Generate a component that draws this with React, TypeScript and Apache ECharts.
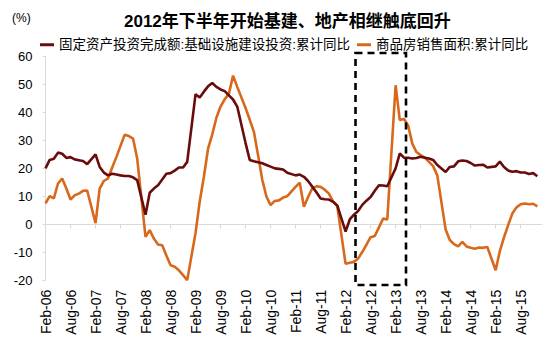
import React, { useEffect, useRef } from "react";
import * as echarts from "echarts";

// Monthly cumulative YoY (%), Feb..Dec of each year (January not published -> null)
const YEARS = [2006, 2007, 2008, 2009, 2010, 2011, 2012, 2013, 2014, 2015];
const MONTHS = ["Jan", "Feb", "Mar", "Apr", "May", "Jun", "Jul", "Aug", "Sep", "Oct", "Nov", "Dec"];

const infra2006 = [20, 23, 23.4, 25.6, 25.2, 23.7, 24, 23.2, 22.9, 22.6, 21.5];
const infra2007 = [25, 20.5, 18.5, 17.5, 18.1, 17.8, 17.5, 17.3, 17.3, 16.8, 15.8];
const infra2008 = [3.5, 11.3, 12.8, 14, 16, 18.1, 18.3, 19.2, 20.3, 20.3, 22.3];
const infra2009 = [46.4, 45.2, 47.3, 49.2, 50.4, 49, 48.1, 47.5, 46, 44.5, 42];
const infra2010 = [29, 23, 22.5, 22.2, 21.8, 21.2, 20.6, 20, 19.8, 19.6, 18.4];
const infra2011 = [17.5, 17.8, 17, 15.5, 13.5, 11.5, 9.3, 9, 8.9, 8.1, 6.8];
const infra2012 = [-2.5, 1.8, 3.5, 4.8, 7, 8.5, 9.8, 12, 14, 13.9, 13.6];
const infra2013 = [20, 25.3, 23.8, 23.8, 23.5, 23.7, 24.1, 23.8, 23.5, 23, 21.2];
const infra2014 = [18.7, 20.5, 20.7, 22.5, 22.8, 22.6, 21.9, 21, 21.2, 21.3, 20.3];
const infra2015 = [20.7, 22.4, 20.5, 19.2, 18.8, 19, 18.5, 18.5, 18, 18.3, 17.2];

const sales2006 = [7.5, 10.1, 9.3, 14.6, 16.4, 12.8, 8.9, 10.4, 11, 12, 12.1];
const sales2007 = [0.5, 12.8, 15.5, 16.4, 20.3, 24, 28, 32, 31.5, 30.6, 23.5];
const sales2008 = [-4.4, -2, -5, -7.1, -7.4, -11, -14.5, -15, -16.3, -18, -19.8];
const sales2009 = [-3, 8.2, 17, 27, 32, 38, 42, 44.6, 46.6, 53, 49];
const sales2010 = [41.5, 37.3, 33, 24.7, 16, 10, 6.9, 8.4, 8.6, 9.6, 10.1];
const sales2011 = [13.4, 14.9, 6.3, 9.8, 12.9, 13.6, 13.4, 12.4, 11, 8.2, 6.5];
const sales2012 = [-14, -13.6, -13.3, -12.1, -9.8, -7.2, -4.5, -4.1, -1, 2.1, 1.8];
const sales2013 = [49.6, 37.2, 37.6, 35.3, 28.8, 25.8, 24.7, 23.8, 22.3, 20.8, 17.5];
const sales2014 = [-1.8, -5.5, -7, -7.8, -6.2, -7.8, -8.3, -8.6, -8.2, -8.3, -8];
const sales2015 = [-16.3, -9.5, -4.6, -0.2, 3.9, 6.1, 7.2, 7.5, 7.2, 7.4, 6.5];

const infraByYear = [infra2006, infra2007, infra2008, infra2009, infra2010, infra2011, infra2012, infra2013, infra2014, infra2015];
const salesByYear = [sales2006, sales2007, sales2008, sales2009, sales2010, sales2011, sales2012, sales2013, sales2014, sales2015];

const Y_TICKS = { min: -20, max: 60, interval: 10 };
const TITLE = "2012年下半年开始基建、地产相继触底回升";
const UNIT = "(%)";
const SERIES_NAMES = ["固定资产投资完成额:基础设施建设投资:累计同比", "商品房销售面积:累计同比"];

const yy = (y: number) => String(y % 100).padStart(2, "0");
const categories: string[] = [];
YEARS.forEach((y) => {
  for (let m = 1; m < 12; m++) categories.push(`${MONTHS[m]}-${yy(y)}`);
  categories.push(`Jan-${yy(y + 1)}`);
});
const flat = (arr: number[][]) => arr.flatMap((a) => [...a, null as any]);
const infraData = flat(infraByYear);
const salesData = flat(salesByYear);

const FONT = "'Liberation Sans', Arial, 'Noto Sans CJK SC', sans-serif";
const MAROON = "#6a0c0c";
const ORANGE = "#d8681c";
const AXIS = "#d9d9d9";

export default function App() {
  const ref = useRef<HTMLDivElement>(null);
  useEffect(() => {
    if (!ref.current) return;
    const chart = echarts.init(ref.current, undefined, { renderer: "svg" });
    chart.setOption({
      animation: false,
      textStyle: { fontFamily: FONT },
      title: [
        { text: UNIT, left: 7, top: 7, textStyle: { fontSize: 12, fontWeight: "normal", color: "#000", fontFamily: FONT } },
        { text: TITLE, left: 119, top: 8, textStyle: { fontSize: 17, fontWeight: "bold", color: "#000", fontFamily: FONT } },
      ],
      legend: {
        left: 35,
        top: 33,
        icon: "rect",
        itemWidth: 14,
        itemHeight: 3,
        itemGap: 7,
        textStyle: { fontSize: 13.5, color: "#000", fontFamily: FONT },
        data: SERIES_NAMES,
      },
      grid: { left: 45.5, right: 8.5, top: 56, bottom: 62.3, containLabel: false },
      xAxis: [
        {
          type: "category",
          data: categories,
          boundaryGap: false,
          axisLine: { onZero: true, lineStyle: { color: AXIS, width: 1 } },
          axisTick: { show: true, interval: 5, length: 4, lineStyle: { color: AXIS } },
          axisLabel: { show: false },
          splitLine: { show: false },
        },
        {
          type: "category",
          data: categories,
          boundaryGap: false,
          position: "bottom",
          axisLine: { show: false, onZero: false },
          axisTick: { show: false },
          axisLabel: { interval: 5, rotate: 90, margin: 9, fontSize: 14, color: "#000", fontFamily: FONT },
          splitLine: { show: false },
        },
      ],
      yAxis: {
        type: "value",
        min: Y_TICKS.min,
        max: Y_TICKS.max,
        interval: Y_TICKS.interval,
        axisLine: { show: true, lineStyle: { color: AXIS } },
        axisTick: { show: true, length: 3, lineStyle: { color: AXIS } },
        axisLabel: { fontSize: 13, color: "#000", margin: 13, fontFamily: FONT },
        splitLine: { show: false },
      },
      series: [
        {
          name: SERIES_NAMES[0],
          type: "line",
          data: infraData,
          connectNulls: true,
          showSymbol: false,
          symbol: "none",
          color: MAROON,
          lineStyle: { color: MAROON, width: 2.6 },
          z: 3,
        },
        {
          name: SERIES_NAMES[1],
          type: "line",
          data: salesData,
          connectNulls: true,
          showSymbol: false,
          symbol: "none",
          color: ORANGE,
          lineStyle: { color: ORANGE, width: 2.6 },
          z: 2,
        },
      ],
      graphic: [
        {
          type: "rect",
          shape: { x: 355.5, y: 53, width: 50.5, height: 232 },
          style: { fill: "none", stroke: "#000", lineWidth: 2.6, lineDash: [7, 5] },
          z: 10,
        },
      ],
    });
    return () => chart.dispose();
  }, []);
  return <div ref={ref} style={{ width: 550, height: 343, position: "absolute", left: 0, top: 0 }} />;
}
